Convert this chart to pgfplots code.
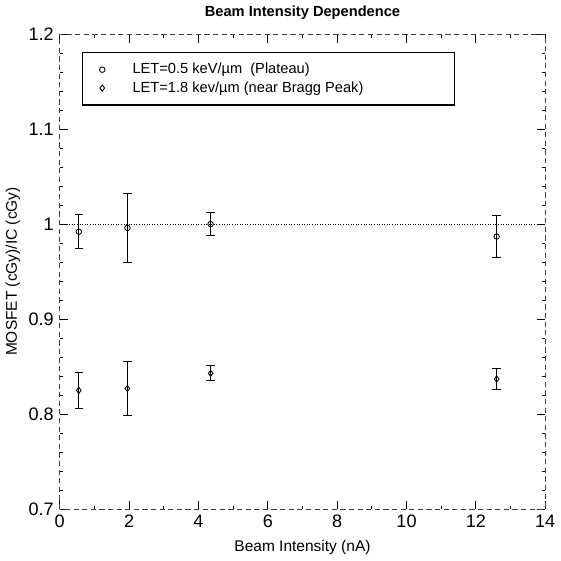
\documentclass[border=0pt]{standalone}
\usepackage{fontspec}
\setmainfont{Liberation Sans}
\usepackage{pgfplots}
\pgfplotsset{compat=1.18}
\begin{document}
\begin{tikzpicture}
\begin{axis}[
  scale only axis,
  width=282pt, height=276pt,
  xmin=0, xmax=14, ymin=0.7, ymax=1.2,
  xtick={0,2,4,6,8,10,12,14},
  ytick={0.7,0.8,0.9,1,1.1,1.2},
  yticklabels={0.7,0.8,0.9,1,1.1,1.2},
  minor x tick num=1, minor y tick num=4,
  tick align=inside,
  major tick length=5pt, minor tick length=2pt,
  tick style={black, line width=0.5pt},
  axis line style={black!75, line width=0.5pt, densely dashed},
  /pgf/number format/assume math mode=true,
  ticklabel style={font=\fontsize{10.5}{12}\selectfont},
  title={\fontsize{8.5}{10}\selectfont\bfseries Beam Intensity Dependence},
  title style={yshift=-1pt},
  xlabel={\fontsize{9}{11}\selectfont Beam Intensity (nA)},
  ylabel={\fontsize{9}{11}\selectfont MOSFET (cGy)/IC (cGy)},
  xlabel style={yshift=0pt},
  ylabel style={yshift=-2pt},
  legend style={at={(0.045,0.962)}, anchor=north west, draw=black, line width=0.8pt,
    font=\fontsize{8.5}{10}\selectfont, row sep=-1pt, inner xsep=10pt, inner ysep=4pt,
    /tikz/every odd column/.append style={column sep=14pt}},
  legend cell align=left,
  clip=false,
]
\addplot[black, densely dotted, line width=0.5pt, forget plot] coordinates {(0.2,1.0) (14,1.0)};
\addplot[black, only marks, mark=o, mark size=1.6pt, mark options={line width=0.5pt},
  error bars/.cd, y dir=both, y explicit,
  error mark options={rotate=90, mark size=2.5pt, line width=0.6pt},
  error bar style={line width=0.7pt}]
  coordinates {
   (0.55,0.992) +- (0,0.018)
   (1.95,0.996) +- (0,0.036)
   (4.35,1.000) +- (0,0.012)
   (12.6,0.987) +- (0,0.022)
  };
\addlegendentry{\makebox[175pt][l]{LET=0.5 keV/µm \ (Plateau)}}
\addplot[black, only marks, mark=diamond, mark size=1.8pt, mark options={line width=0.5pt},
  error bars/.cd, y dir=both, y explicit,
  error mark options={rotate=90, mark size=2.5pt, line width=0.6pt},
  error bar style={line width=0.7pt}]
  coordinates {
   (0.55,0.825) +- (0,0.019)
   (1.95,0.827) +- (0,0.028)
   (4.35,0.843) +- (0,0.008)
   (12.6,0.837) +- (0,0.011)
  };
\addlegendentry{\makebox[175pt][l]{LET=1.8 kev/µm (near Bragg Peak)}}
\end{axis}
\end{tikzpicture}
\end{document}
